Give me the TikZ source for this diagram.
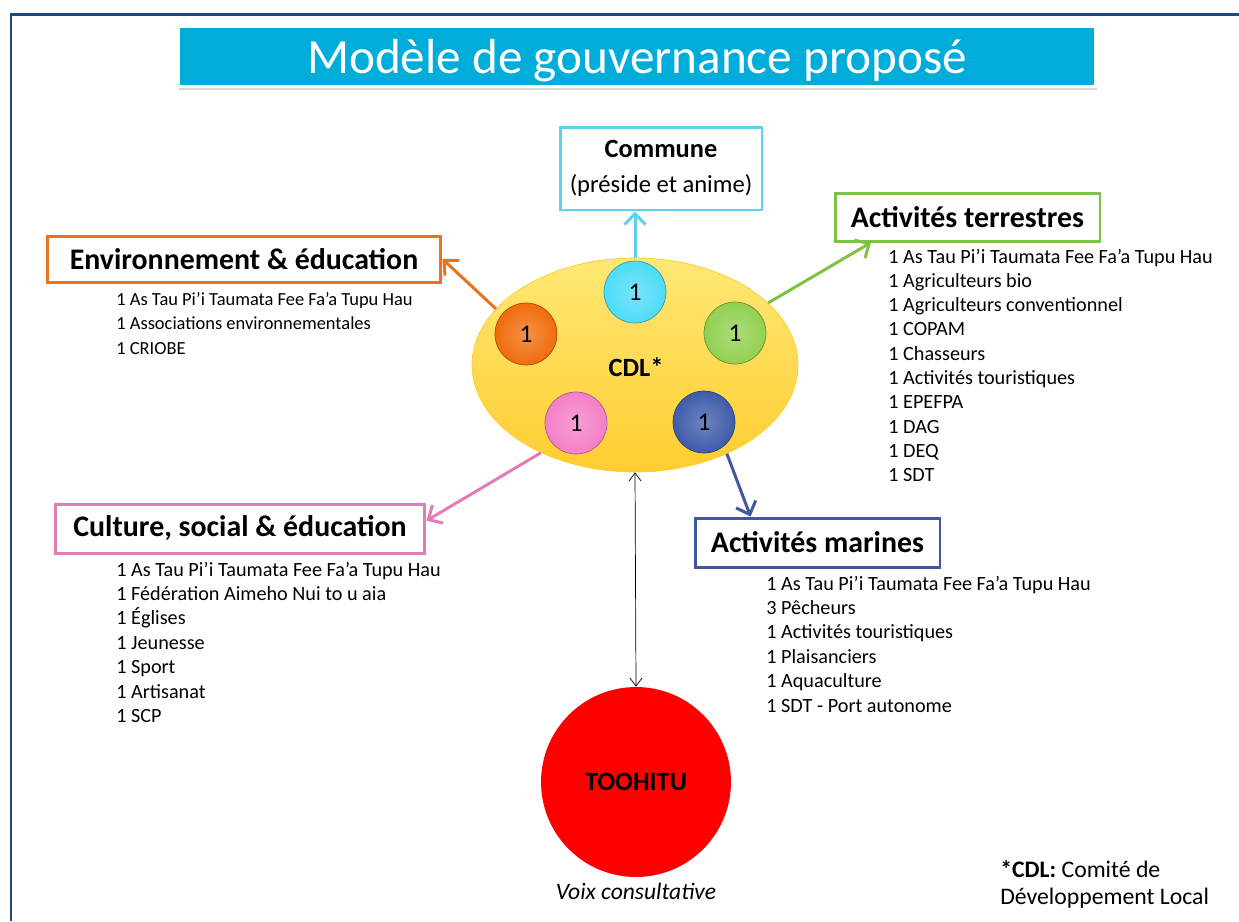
\documentclass[tikz,border=0pt]{standalone}
\usepackage{fontspec}
\setmainfont{Carlito}
\usetikzlibrary{arrows.meta,shapes.geometric,shadows,calc}

\definecolor{frameblue}{HTML}{1F497D}
\definecolor{titlecyan}{HTML}{00ADDA}
\definecolor{communecyan}{HTML}{5AD2F0}
\definecolor{envorange}{HTML}{E8731E}
\definecolor{terrgreen}{HTML}{7DC242}
\definecolor{culturepink}{HTML}{E27CB8}
\definecolor{marineblue}{HTML}{41579E}
\definecolor{seatcyan}{HTML}{4DDCF8}
\definecolor{seatorange}{HTML}{F06C0C}
\definecolor{seatgreen}{HTML}{92D050}
\definecolor{seatpink}{HTML}{F57FC7}
\definecolor{seatblue}{HTML}{3F5BAA}
\definecolor{cdlyellow}{HTML}{FFDE3A}

\tikzset{
  catbox/.style={draw=#1, line width=1.7pt, fill=white, inner sep=0pt,
    font=\fontsize{17}{20}\selectfont\bfseries},
  item/.style={anchor=base west, inner sep=0pt, font=\fontsize{11.5}{13}\selectfont},
  link/.style={draw=#1, line width=1.7pt, -{Straight Barb[length=2.2mm,width=4.2mm]}},
  seat/.style={circle, draw=#1!70!black, thin, inner color=#1!75!white, outer color=#1,
    minimum size=1.24cm, inner sep=0pt, font=\fontsize{14.5}{16}\selectfont},
}

\begin{document}
\begin{tikzpicture}[x=0.02cm,y=-0.02cm]
\useasboundingbox (0,0) rectangle (1239,921);

% frame
\draw[frameblue, line width=1.7pt] (11,921) -- (11,14.5) -- (1239,14.5);

% title
\node[fill=titlecyan, draw=white, line width=1.7pt, minimum width=18.36cm, minimum height=1.2cm,
  drop shadow={shadow xshift=0.5pt, shadow yshift=-2pt, opacity=.3}, text depth=0pt,
  text=white, font=\fontsize{28}{32}\selectfont] (title) at (637,56.5) {Modèle de gouvernance proposé};

% CDL and its seats
\node[ellipse, minimum width=6.52cm, minimum height=4.28cm, inner sep=0pt,
  draw=cdlyellow!80!orange, thin, top color=cdlyellow!70!white, bottom color=cdlyellow!82!orange] (cdl) at (635,365) {};
\node[font=\fontsize{15}{17}\selectfont\bfseries] (cdltext) at (636,367) {CDL*};
\node[seat=seatcyan] (s1) at (635,292) {1};
\node[seat=seatorange] (s2) at (526,334) {1};
\node[seat=seatgreen] (s3) at (735,333) {1};
\node[seat=seatpink] (s4) at (576,423) {1};
\node[seat=seatblue] (s5) at (704,422) {1};

% groups
\node[catbox=communecyan, minimum width=4.04cm, minimum height=1.66cm, align=center,
  font=\fontsize{14}{20}\selectfont] (commune) at (661,168.5) {{\fontsize{15}{20}\selectfont\bfseries Commune}\\(préside et anime)};
\node[catbox=envorange, minimum width=7.88cm, minimum height=0.92cm] (env) at (244,259) {Environnement \& éducation};
\node[catbox=terrgreen, minimum width=5.3cm, minimum height=0.96cm] (terr) at (967.5,217) {Activités terrestres};
\node[catbox=culturepink, minimum width=7.4cm, minimum height=0.98cm] (culture) at (240,528.5) {Culture, social \& éducation};
\node[catbox=marineblue, minimum width=4.9cm, minimum height=0.98cm] (marines) at (817.5,542.5) {Activités marines};

% members
\foreach \t [count=\i] in {1 As Tau Pi’i Taumata Fee Fa’a Tupu Hau, 1 Associations environnementales, 1 CRIOBE}
  \node[item, font=\fontsize{10.5}{12}\selectfont] (env-\i) at (116,{305+24.5*(\i-1)}) {\t};
\foreach \t [count=\i] in {1 As Tau Pi’i Taumata Fee Fa’a Tupu Hau, 1 Agriculteurs bio, 1 Agriculteurs conventionnel,
    1 COPAM, 1 Chasseurs, 1 Activités touristiques, 1 EPEFPA, 1 DAG, 1 DEQ, 1 SDT}
  \node[item] (terr-\i) at (888,{263+24.3*(\i-1)}) {\t};
\foreach \t [count=\i] in {1 As Tau Pi’i Taumata Fee Fa’a Tupu Hau, 1 Fédération Aimeho Nui to u aia, 1 Églises,
    1 Jeunesse, 1 Sport, 1 Artisanat, 1 SCP}
  \node[item] (culture-\i) at (116,{576+24.4*(\i-1)}) {\t};
\foreach \t [count=\i] in {1 As Tau Pi’i Taumata Fee Fa’a Tupu Hau, 3 Pêcheurs, 1 Activités touristiques,
    1 Plaisanciers, 1 Aquaculture, 1 SDT - Port autonome}
  \node[item] (marines-\i) at (766,{590+24.4*(\i-1)}) {\t};

% toohitu
\node[circle, fill=red, minimum size=3.8cm, inner sep=0pt,
  font=\fontsize{15}{17}\selectfont\bfseries] (toohitu) at (636,782) {TOOHITU};
\node[font=\fontsize{13.4}{15}\selectfont\itshape] (voix) at (636,891) {Voix consultative};

% legend
\node[item, font=\fontsize{13.5}{15}\selectfont] (note1) at (1000,877) {\textbf{*CDL:} Comité de};
\node[item, font=\fontsize{13.5}{15}\selectfont] (note2) at (1000,904) {Développement Local};

% links
\draw[link=communecyan] (cdl.north) -- (cdl.north |- commune.south);
\draw[link=envorange] (cdl.158) -- (env.east);
\draw[link=terrgreen] (cdl.25) -- ($(terr.south west)!0.14!(terr.south east)$);
\draw[link=culturepink] (cdl.223) -- ($(culture.north east)!0.35!(culture.south east)$);
\draw[link=marineblue] (cdl.316) -- ($(marines.north west)!0.23!(marines.north east)$);
\draw[{Straight Barb[length=1.6mm,width=2.4mm]}-{Straight Barb[length=1.6mm,width=2.4mm]}, thin] (cdl.south) -- (toohitu.north);
\end{tikzpicture}
\end{document}
